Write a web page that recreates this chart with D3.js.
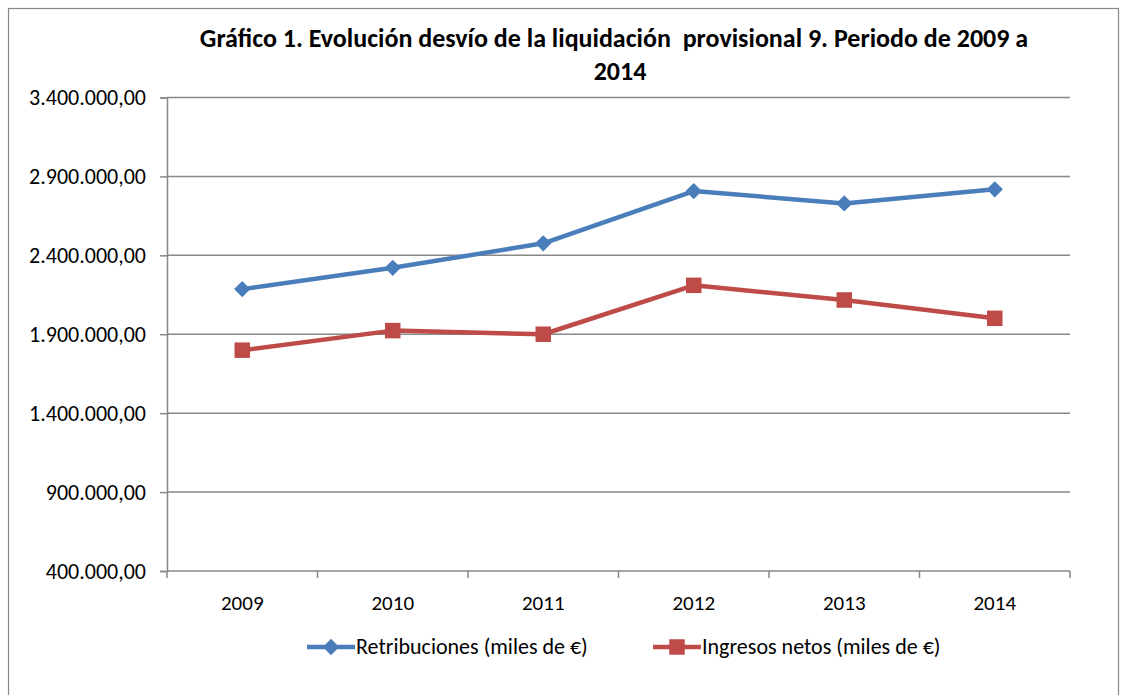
<!DOCTYPE html>
<html>
<head>
<meta charset="utf-8">
<script src="https://cdn.jsdelivr.net/npm/d3@7"></script>
<style>
  body { margin: 0; background: #fff; }
  text { font-family: Carlito, "Liberation Sans Narrow", "Open Sans", sans-serif; fill: #000; }
</style>
</head>
<body>
<div id="root"></div>
<script>
const years = ['2009', '2010', '2011', '2012', '2013', '2014'];
const retribuciones = [2186000, 2321000, 2476000, 2807000, 2729000, 2818000];
const ingresosNetos = [1799000, 1923000, 1900000, 2210000, 2117000, 2001000];
const yTicks = [400000, 900000, 1400000, 1900000, 2400000, 2900000, 3400000];
const seriesNames = ['Retribuciones (miles de €)', 'Ingresos netos (miles de €)'];

const width = 1126;
const height = 695;
const plotLeft = 167, plotRight = 1070, plotTop = 97.5, plotBottom = 571;

const svg = d3.select('#root')
  .append('svg')
  .attr('width', width)
  .attr('height', height);

// chart frame
svg.append('rect')
  .attr('x', 8.5).attr('y', 8.5)
  .attr('width', 1110).attr('height', 720)
  .attr('fill', 'none')
  .attr('stroke', '#888')
  .attr('stroke-width', 1.2);

const x = d3.scaleBand().domain(years).range([plotLeft, plotRight]);
const y = d3.scaleLinear().domain([400000, 3400000]).range([plotBottom, plotTop]);

const fmt = v => d3.format(',.2f')(v).replace(/,/g, '#').replace('.', ',').replace(/#/g, '.');

// gridlines
svg.append('g')
  .selectAll('line')
  .data(yTicks.slice(1))
  .enter()
  .append('line')
  .attr('x1', plotLeft).attr('x2', plotRight)
  .attr('y1', d => y(d)).attr('y2', d => y(d))
  .attr('stroke', '#888')
  .attr('stroke-width', 1.5);

// y axis
const yAxis = svg.append('g')
  .attr('transform', `translate(${plotLeft},0)`)
  .call(d3.axisLeft(y).tickValues(yTicks).tickFormat(fmt).tickSize(7).tickPadding(14));
yAxis.select('.domain').attr('stroke', '#888').attr('stroke-width', 1.5);
yAxis.selectAll('.tick line').attr('stroke', '#888').attr('stroke-width', 1.5);
yAxis.selectAll('.tick text')
  .style('font-family', 'Carlito, "Open Sans", sans-serif')
  .attr('font-size', 22)
  .attr('fill', '#000');

// x axis with ticks between categories
const xAxis = svg.append('g')
  .attr('transform', `translate(0,${plotBottom})`);
xAxis.append('line')
  .attr('x1', plotLeft).attr('x2', plotRight)
  .attr('stroke', '#888').attr('stroke-width', 1.5);
xAxis.selectAll('line.tk')
  .data(years.concat(['end']))
  .enter()
  .append('line')
  .attr('class', 'tk')
  .attr('x1', (d, i) => plotLeft + i * x.step())
  .attr('x2', (d, i) => plotLeft + i * x.step())
  .attr('y1', 0).attr('y2', 7)
  .attr('stroke', '#888').attr('stroke-width', 1.5);
xAxis.selectAll('text')
  .data(years)
  .enter()
  .append('text')
  .attr('x', d => x(d) + x.bandwidth() / 2)
  .attr('y', 39)
  .attr('text-anchor', 'middle')
  .attr('font-size', 21)
  .text(d => d);

const cx = d => x(d) + x.bandwidth() / 2;
const line = d3.line().x((d, i) => cx(years[i])).y(d => y(d));

const diamond = d3.symbol().type(d3.symbolDiamond2).size(170);
const square = d3.symbol().type(d3.symbolSquare).size(240);

const series = [
  {values: retribuciones, color: '#4a7ebb', marker: diamond},
  {values: ingresosNetos, color: '#be4b48', marker: square},
];

series.forEach(s => {
  svg.append('path')
    .datum(s.values)
    .attr('fill', 'none')
    .attr('stroke', s.color)
    .attr('stroke-width', 4.5)
    .attr('stroke-linejoin', 'round')
    .attr('d', line);
  svg.append('g')
    .selectAll('path')
    .data(s.values)
    .enter()
    .append('path')
    .attr('transform', (d, i) => `translate(${cx(years[i])},${y(d)})`)
    .attr('fill', s.color)
    .attr('d', s.marker());
});

// title
const title = svg.append('text')
  .attr('text-anchor', 'middle')
  .attr('font-weight', 'bold')
  .attr('font-size', 26);
title.append('tspan').attr('x', 614).attr('y', 47)
  .text('Gráfico 1. Evolución desvío de la liquidación  provisional 9. Periodo de 2009 a')
  .style('white-space', 'pre');
title.append('tspan').attr('x', 620).attr('y', 80).text('2014');

// legend
const legend = [
  {x: 307, color: '#4a7ebb', marker: diamond, name: seriesNames[0]},
  {x: 653, color: '#be4b48', marker: square, name: seriesNames[1]},
];
const lg = svg.append('g')
  .selectAll('g')
  .data(legend)
  .enter()
  .append('g')
  .attr('transform', d => `translate(${d.x},647)`);
lg.append('line')
  .attr('x1', 0).attr('x2', 48)
  .attr('stroke', d => d.color)
  .attr('stroke-width', 4.5);
lg.append('path')
  .attr('transform', 'translate(24,0)')
  .attr('fill', d => d.color)
  .attr('d', d => d.marker());
lg.append('text')
  .attr('x', 49)
  .attr('y', 7)
  .attr('font-size', 22)
  .style('white-space', 'pre')
  .text(d => d.name);
</script>
</body>
</html>
